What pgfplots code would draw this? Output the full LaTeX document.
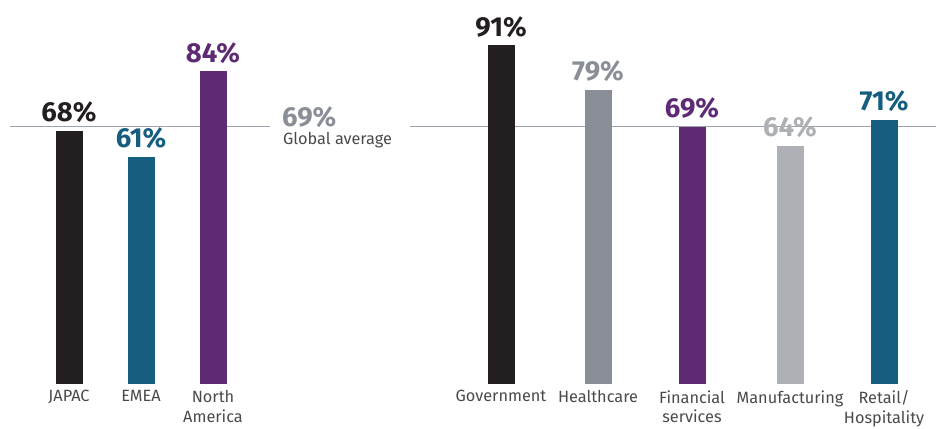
\documentclass[border=0pt]{standalone}
\usepackage{fontspec}
\setmainfont{Fira Sans}
\usepackage{pgfplots}
\pgfplotsset{compat=1.18}
\definecolor{cblack}{HTML}{231F20}
\definecolor{cteal}{HTML}{165E80}
\definecolor{cpurple}{HTML}{5E2A74}
\definecolor{cgray}{HTML}{8A8E96}
\definecolor{clgray}{HTML}{ADB0B4}
\definecolor{cline}{HTML}{9CA3AC}
\definecolor{ctext}{HTML}{4A4A4A}
\newcommand{\numfont}{\fontsize{27.5}{30}\selectfont\bfseries}
\pgfplotsset{
  mybar/.style={ybar, bar width=27pt, bar shift=0pt, fill=#1, draw=none,
    nodes near coords={\pgfmathprintnumber{\pgfplotspointmeta}\%},
    nodes near coords style={text=#1, anchor=base, yshift=9pt, font=\numfont}},
}
\begin{document}
\begin{tikzpicture}
\path[use as bounding box] (0,0) rectangle (936pt,428pt);
\begin{axis}[
  at={(0pt,44pt)}, anchor=south west,
  scale only axis, width=936pt, height=372.5pt,
  xmin=0, xmax=936, ymin=0, ymax=100,
  clip=false,
  axis line style={draw=none},
  ytick=\empty,
  /pgf/number format/assume math mode=true,
  xtick={69,141,213,501,598,692,790,884},
  xticklabels={JAPAC,EMEA,North\\America,Government,Healthcare,Financial\\services,Manufacturing,Retail/\\Hospitality},
  major tick length=0pt,
  xticklabel style={align=center, font=\fontsize{16.3}{19.5}\selectfont, text=ctext, anchor=north, yshift=-3pt},
]
\addplot[cline, line width=1pt] coordinates {(10,69) (270,69)};
\addplot[cline, line width=1pt] coordinates {(410,69) (936,69)};
\addplot[mybar=cblack] coordinates {(69,68)};
\addplot[mybar=cteal] coordinates {(141,61)};
\addplot[mybar=cpurple] coordinates {(213,84)};
\addplot[mybar=cblack] coordinates {(501,91)};
\addplot[mybar=cgray] coordinates {(598,79)};
\addplot[mybar=cpurple] coordinates {(692,69)};
\addplot[mybar=clgray] coordinates {(790,64)};
\addplot[mybar=cteal] coordinates {(884,71)};
\node[anchor=base west, inner sep=0pt, text=cgray, font=\numfont] at (axis cs:282,69) {69\%};
\node[anchor=base west, inner sep=0pt, text=ctext, font=\fontsize{16.3}{18}\selectfont] at ([yshift=-18pt]axis cs:283,69) {Global average};
\end{axis}
\end{tikzpicture}
\end{document}
